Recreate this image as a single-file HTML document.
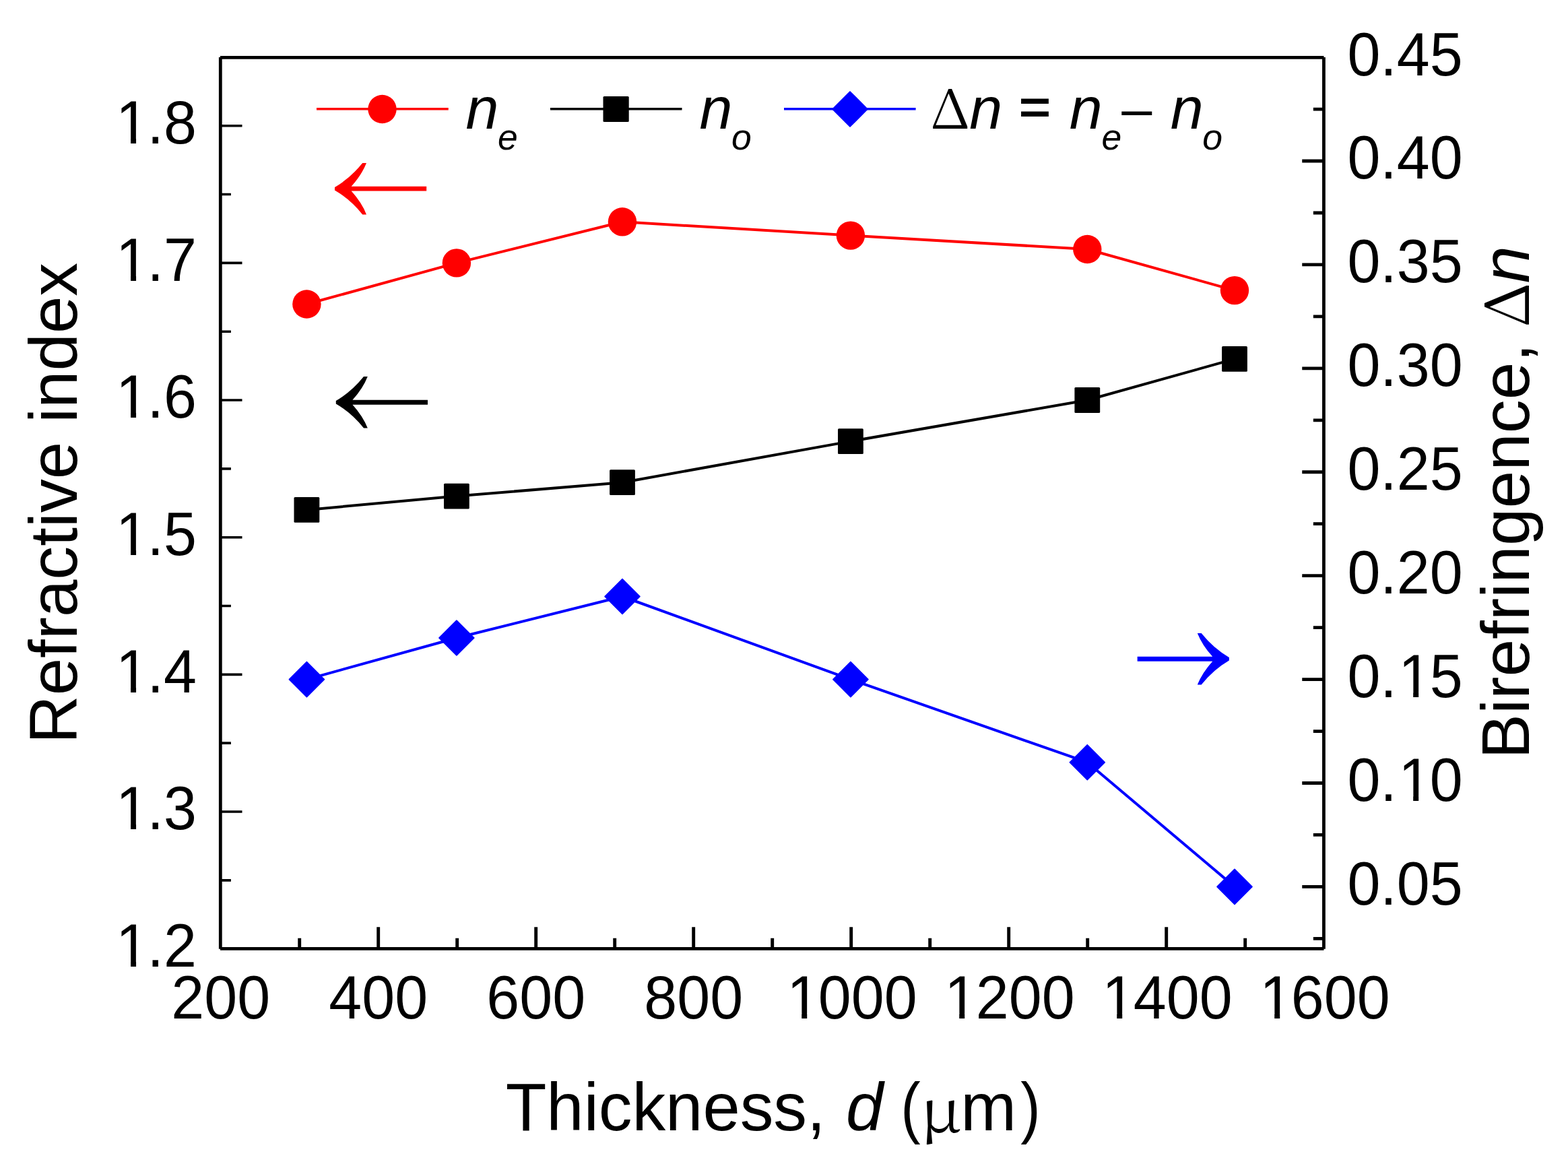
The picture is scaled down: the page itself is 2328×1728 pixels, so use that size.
<!DOCTYPE html><html><head><meta charset="utf-8"><title>Refractive index vs thickness</title><style>html,body{margin:0;padding:0;background:#fff;}svg{display:block;}text{font-family:"Liberation Sans",Arial,sans-serif;fill:#000;}.it{font-style:italic;}.sr{font-family:"Liberation Serif","Times New Roman",serif;}.gk{font-family:"Noto Serif CJK SC","Liberation Serif",serif;}</style></head><body>
<svg width="2328" height="1728" viewBox="0 0 2328 1728">
<rect width="2328" height="1728" fill="#fff"/>
<path d="M327.3 1306.83H342.90M327.3 1205.00H359.50M327.3 1103.17H342.90M327.3 1001.34H359.50M327.3 899.51H342.90M327.3 797.68H359.50M327.3 695.85H342.90M327.3 594.02H359.50M327.3 492.19H342.90M327.3 390.36H359.50M327.3 288.53H342.90M327.3 186.70H359.50M327.3 84.87H342.90" stroke="#000" stroke-width="3.6" fill="none"/>
<path d="M1965.45 1393.37H1949.85M1965.45 1316.41H1933.25M1965.45 1239.46H1949.85M1965.45 1162.50H1933.25M1965.45 1085.54H1949.85M1965.45 1008.59H1933.25M1965.45 931.63H1949.85M1965.45 854.67H1933.25M1965.45 777.72H1949.85M1965.45 700.76H1933.25M1965.45 623.81H1949.85M1965.45 546.85H1933.25M1965.45 469.89H1949.85M1965.45 392.94H1933.25M1965.45 315.98H1949.85M1965.45 239.02H1933.25M1965.45 162.07H1949.85" stroke="#000" stroke-width="4.8" fill="none"/>
<path d="M444.70 1408.45V1392.85M561.70 1408.45V1376.25M678.70 1408.45V1392.85M795.70 1408.45V1376.25M912.70 1408.45V1392.85M1029.70 1408.45V1376.25M1146.70 1408.45V1392.85M1263.70 1408.45V1376.25M1380.70 1408.45V1392.85M1497.70 1408.45V1376.25M1614.70 1408.45V1392.85M1731.70 1408.45V1376.25M1848.70 1408.45V1392.85" stroke="#000" stroke-width="4.9" fill="none"/>
<path d="M327.3 85V1408.8M1965.45 85V1408.8M327.0 85.4H1965.5M327.0 1408.45H1965.5" stroke="#000" stroke-width="4.8" fill="none"/>
<defs><clipPath id="cl0"><path clip-rule="evenodd" d="M-60 -120H182.3V60H-60ZM7.60 -7.2H24.40V2H7.60ZM32.40 -7.2H48.60V2H32.40Z"/></clipPath><clipPath id="cl1"><path clip-rule="evenodd" d="M-60 -120H182.3V60H-60ZM7.60 -7.2H24.40V2H7.60ZM32.40 -7.2H48.60V2H32.40Z"/></clipPath><clipPath id="cl2"><path clip-rule="evenodd" d="M-60 -120H182.3V60H-60ZM7.60 -7.2H24.40V2H7.60ZM32.40 -7.2H48.60V2H32.40Z"/></clipPath><clipPath id="cl3"><path clip-rule="evenodd" d="M-60 -120H182.3V60H-60ZM7.60 -7.2H24.40V2H7.60ZM32.40 -7.2H48.60V2H32.40Z"/></clipPath><clipPath id="cl4"><path clip-rule="evenodd" d="M-60 -120H182.3V60H-60ZM7.60 -7.2H24.40V2H7.60ZM32.40 -7.2H48.60V2H32.40Z"/></clipPath><clipPath id="cl5"><path clip-rule="evenodd" d="M-60 -120H182.3V60H-60ZM7.60 -7.2H24.40V2H7.60ZM32.40 -7.2H48.60V2H32.40Z"/></clipPath><clipPath id="cl6"><path clip-rule="evenodd" d="M-60 -120H182.3V60H-60ZM7.60 -7.2H24.40V2H7.60ZM32.40 -7.2H48.60V2H32.40Z"/></clipPath><clipPath id="cr1"><path clip-rule="evenodd" d="M-60 -120H231.3V60H-60ZM80.99 -7.2H97.79V2H80.99ZM105.79 -7.2H121.99V2H105.79Z"/></clipPath><clipPath id="cr2"><path clip-rule="evenodd" d="M-60 -120H231.3V60H-60ZM80.99 -7.2H97.79V2H80.99ZM105.79 -7.2H121.99V2H105.79Z"/></clipPath><clipPath id="cb1000"><path clip-rule="evenodd" d="M-60 -120H255.8V60H-60ZM7.60 -7.2H24.40V2H7.60ZM32.40 -7.2H48.60V2H32.40Z"/></clipPath><clipPath id="cb1200"><path clip-rule="evenodd" d="M-60 -120H255.8V60H-60ZM7.60 -7.2H24.40V2H7.60ZM32.40 -7.2H48.60V2H32.40Z"/></clipPath><clipPath id="cb1400"><path clip-rule="evenodd" d="M-60 -120H255.8V60H-60ZM7.60 -7.2H24.40V2H7.60ZM32.40 -7.2H48.60V2H32.40Z"/></clipPath><clipPath id="cb1600"><path clip-rule="evenodd" d="M-60 -120H255.8V60H-60ZM7.60 -7.2H24.40V2H7.60ZM32.40 -7.2H48.60V2H32.40Z"/></clipPath></defs>
<text transform="translate(169.67 1435.06) scale(1 1.035)" font-size="88" clip-path="url(#cl0)"><tspan dx="2.4">1</tspan><tspan dx="-2.4">.</tspan>2</text>
<text transform="translate(169.67 1231.40) scale(1 1.035)" font-size="88" clip-path="url(#cl1)"><tspan dx="2.4">1</tspan><tspan dx="-2.4">.</tspan>3</text>
<text transform="translate(169.67 1027.74) scale(1 1.035)" font-size="88" clip-path="url(#cl2)"><tspan dx="2.4">1</tspan><tspan dx="-2.4">.</tspan>4</text>
<text transform="translate(169.67 824.08) scale(1 1.035)" font-size="88" clip-path="url(#cl3)"><tspan dx="2.4">1</tspan><tspan dx="-2.4">.</tspan>5</text>
<text transform="translate(169.67 620.42) scale(1 1.035)" font-size="88" clip-path="url(#cl4)"><tspan dx="2.4">1</tspan><tspan dx="-2.4">.</tspan>6</text>
<text transform="translate(169.67 416.76) scale(1 1.035)" font-size="88" clip-path="url(#cl5)"><tspan dx="2.4">1</tspan><tspan dx="-2.4">.</tspan>7</text>
<text transform="translate(169.67 213.10) scale(1 1.035)" font-size="88" clip-path="url(#cl6)"><tspan dx="2.4">1</tspan><tspan dx="-2.4">.</tspan>8</text>
<text transform="translate(2000.40 1342.81) scale(1 1.035)" font-size="88">0.05</text>
<text transform="translate(2000.40 1188.90) scale(1 1.035)" font-size="88" clip-path="url(#cr1)">0.<tspan dx="2.4">1</tspan><tspan dx="-2.4">0</tspan></text>
<text transform="translate(2000.40 1034.99) scale(1 1.035)" font-size="88" clip-path="url(#cr2)">0.<tspan dx="2.4">1</tspan><tspan dx="-2.4">5</tspan></text>
<text transform="translate(2000.40 881.07) scale(1 1.035)" font-size="88">0.20</text>
<text transform="translate(2000.40 727.16) scale(1 1.035)" font-size="88">0.25</text>
<text transform="translate(2000.40 573.25) scale(1 1.035)" font-size="88">0.30</text>
<text transform="translate(2000.40 419.34) scale(1 1.035)" font-size="88">0.35</text>
<text transform="translate(2000.40 265.42) scale(1 1.035)" font-size="88">0.40</text>
<text transform="translate(2000.40 111.51) scale(1 1.035)" font-size="88">0.45</text>
<text transform="translate(254.29 1511.70) scale(1 1.035)" font-size="88">200</text>
<text transform="translate(488.29 1511.70) scale(1 1.035)" font-size="88">400</text>
<text transform="translate(722.29 1511.70) scale(1 1.035)" font-size="88">600</text>
<text transform="translate(956.29 1511.70) scale(1 1.035)" font-size="88">800</text>
<text transform="translate(1165.82 1511.70) scale(1 1.035)" font-size="88" clip-path="url(#cb1000)"><tspan dx="2.4">1</tspan><tspan dx="-2.4">0</tspan>00</text>
<text transform="translate(1399.82 1511.70) scale(1 1.035)" font-size="88" clip-path="url(#cb1200)"><tspan dx="2.4">1</tspan><tspan dx="-2.4">2</tspan>00</text>
<text transform="translate(1633.82 1511.70) scale(1 1.035)" font-size="88" clip-path="url(#cb1400)"><tspan dx="2.4">1</tspan><tspan dx="-2.4">4</tspan>00</text>
<text transform="translate(1867.82 1511.70) scale(1 1.035)" font-size="88" clip-path="url(#cb1600)"><tspan dx="2.4">1</tspan><tspan dx="-2.4">6</tspan>00</text>
<polyline points="455.4,451.5 677.9,390.4 924.0,329.3 1262.9,349.6 1614.3,370.0 1833.0,431.1" fill="none" stroke="#f00" stroke-width="4" stroke-linejoin="round"/>
<polyline points="455.4,756.9 677.9,736.6 924.0,716.2 1262.9,655.1 1614.3,594.0 1833.0,532.9" fill="none" stroke="#000" stroke-width="4" stroke-linejoin="round"/>
<polyline points="455.4,1008.6 677.9,947.0 924.0,885.5 1262.9,1008.6 1614.3,1131.7 1833.0,1316.4" fill="none" stroke="#00f" stroke-width="4" stroke-linejoin="round"/>
<circle cx="455.4" cy="451.5" r="21.2" fill="#f00"/>
<circle cx="677.9" cy="390.4" r="21.2" fill="#f00"/>
<circle cx="924.0" cy="329.3" r="21.2" fill="#f00"/>
<circle cx="1262.9" cy="349.6" r="21.2" fill="#f00"/>
<circle cx="1614.3" cy="370.0" r="21.2" fill="#f00"/>
<circle cx="1833.0" cy="431.1" r="21.2" fill="#f00"/>
<rect x="436.5" y="738.0" width="37.8" height="37.8" rx="1.5" fill="#000"/>
<rect x="659.0" y="717.7" width="37.8" height="37.8" rx="1.5" fill="#000"/>
<rect x="905.1" y="697.3" width="37.8" height="37.8" rx="1.5" fill="#000"/>
<rect x="1244.0" y="636.2" width="37.8" height="37.8" rx="1.5" fill="#000"/>
<rect x="1595.4" y="575.1" width="37.8" height="37.8" rx="1.5" fill="#000"/>
<rect x="1814.1" y="514.0" width="37.8" height="37.8" rx="1.5" fill="#000"/>
<path d="M455.4 982.6L481.4 1008.6L455.4 1034.6L429.4 1008.6Z" fill="#00f" stroke="#00f" stroke-width="1.6" stroke-linejoin="round"/>
<path d="M677.9 921.0L703.9 947.0L677.9 973.0L651.9 947.0Z" fill="#00f" stroke="#00f" stroke-width="1.6" stroke-linejoin="round"/>
<path d="M924.0 859.5L950.0 885.5L924.0 911.5L898.0 885.5Z" fill="#00f" stroke="#00f" stroke-width="1.6" stroke-linejoin="round"/>
<path d="M1262.9 982.6L1288.9 1008.6L1262.9 1034.6L1236.9 1008.6Z" fill="#00f" stroke="#00f" stroke-width="1.6" stroke-linejoin="round"/>
<path d="M1614.3 1105.7L1640.3 1131.7L1614.3 1157.7L1588.3 1131.7Z" fill="#00f" stroke="#00f" stroke-width="1.6" stroke-linejoin="round"/>
<path d="M1833.0 1290.4L1859.0 1316.4L1833.0 1342.4L1807.0 1316.4Z" fill="#00f" stroke="#00f" stroke-width="1.6" stroke-linejoin="round"/>
<path d="M470 161.7H665.75" stroke="#f00" stroke-width="3.6"/>
<circle cx="567.5" cy="162.0" r="21.2" fill="#f00"/>
<path d="M817 161.7H1012.5" stroke="#000" stroke-width="3.6"/>
<rect x="895.5" y="142.9" width="38.2" height="38.2" rx="1.5" fill="#000"/>
<path d="M1164 161.7H1359.6" stroke="#00f" stroke-width="3.6"/>
<path d="M1262.0 136.0L1288.0 162.0L1262.0 188.0L1236.0 162.0Z" fill="#00f" stroke="#00f" stroke-width="1.6" stroke-linejoin="round"/>
<text class="it" y="191.3" font-size="88"><tspan x="691.5">n</tspan><tspan x="739.0" y="222.1" font-size="53.5">e</tspan></text>
<text class="it" y="191.3" font-size="88"><tspan x="1038.4">n</tspan><tspan x="1086.0" y="222.1" font-size="53.5">o</tspan></text>
<text y="191.3" font-size="88"><tspan class="gk" x="1381.1" font-size="80.7" textLength="59.74" lengthAdjust="spacingAndGlyphs">Δ</tspan><tspan class="it" x="1439.2">n </tspan><tspan x="1513.36" y="185.3" font-size="75.2" stroke="#000" stroke-width="2.06" textLength="46.5" lengthAdjust="spacingAndGlyphs">=</tspan><tspan> </tspan><tspan class="it" x="1587.8" y="191.3">n</tspan><tspan class="it" x="1635.5" y="222.1" font-size="53.5">e</tspan><tspan x="1665.2" y="189.25" font-size="81">– </tspan><tspan class="it" x="1737.7" y="191.3">n</tspan><tspan class="it" x="1785.35" y="222.1" font-size="53.5">o</tspan></text>
<path d="M497.00 277.95Q520.00 264.60 538.20 242.00H544.00Q537.20 259.40 521.60 276.80H633.20V283.60H521.60Q537.20 301.00 544.00 318.40H538.20Q520.00 295.80 497.00 282.45Z" fill="#f00"/>
<path d="M498.80 595.00Q521.80 581.65 540.00 559.05H545.80Q539.00 576.45 523.40 593.85H635.00V600.65H523.40Q539.00 618.05 545.80 635.45H540.00Q521.80 612.85 498.80 599.50Z" fill="#000"/>
<path d="M1824.85 976.00Q1801.85 962.65 1783.65 940.05H1777.85Q1784.65 957.45 1800.25 974.85H1688.65V981.65H1800.25Q1784.65 999.05 1777.85 1016.45H1783.65Q1801.85 993.85 1824.85 980.50Z" fill="#00f"/>
<text transform="translate(113.9 1104.3) rotate(-90)" font-size="99.65">Refractive index</text>
<text transform="translate(2269.9 1126.8) rotate(-90)" font-size="100">Birefringence, <tspan class="gk" x="640.3" font-size="90.6" textLength="67.69" lengthAdjust="spacingAndGlyphs">Δ</tspan><tspan class="it" x="706.3" font-size="99.4">n</tspan></text>
<text y="1677.8" font-size="99.4"><tspan x="750.65">Thickness, </tspan><tspan class="it" x="1256.0">d </tspan><tspan x="1337.3" textLength="29.46" lengthAdjust="spacingAndGlyphs">(</tspan><tspan class="gk" x="1366.3" y="1680.8" font-size="90.34" textLength="61.07" lengthAdjust="spacingAndGlyphs">μ</tspan><tspan x="1426.3" y="1677.8">m</tspan><tspan x="1515.2" textLength="29.46" lengthAdjust="spacingAndGlyphs">)</tspan></text>
</svg></body></html>
